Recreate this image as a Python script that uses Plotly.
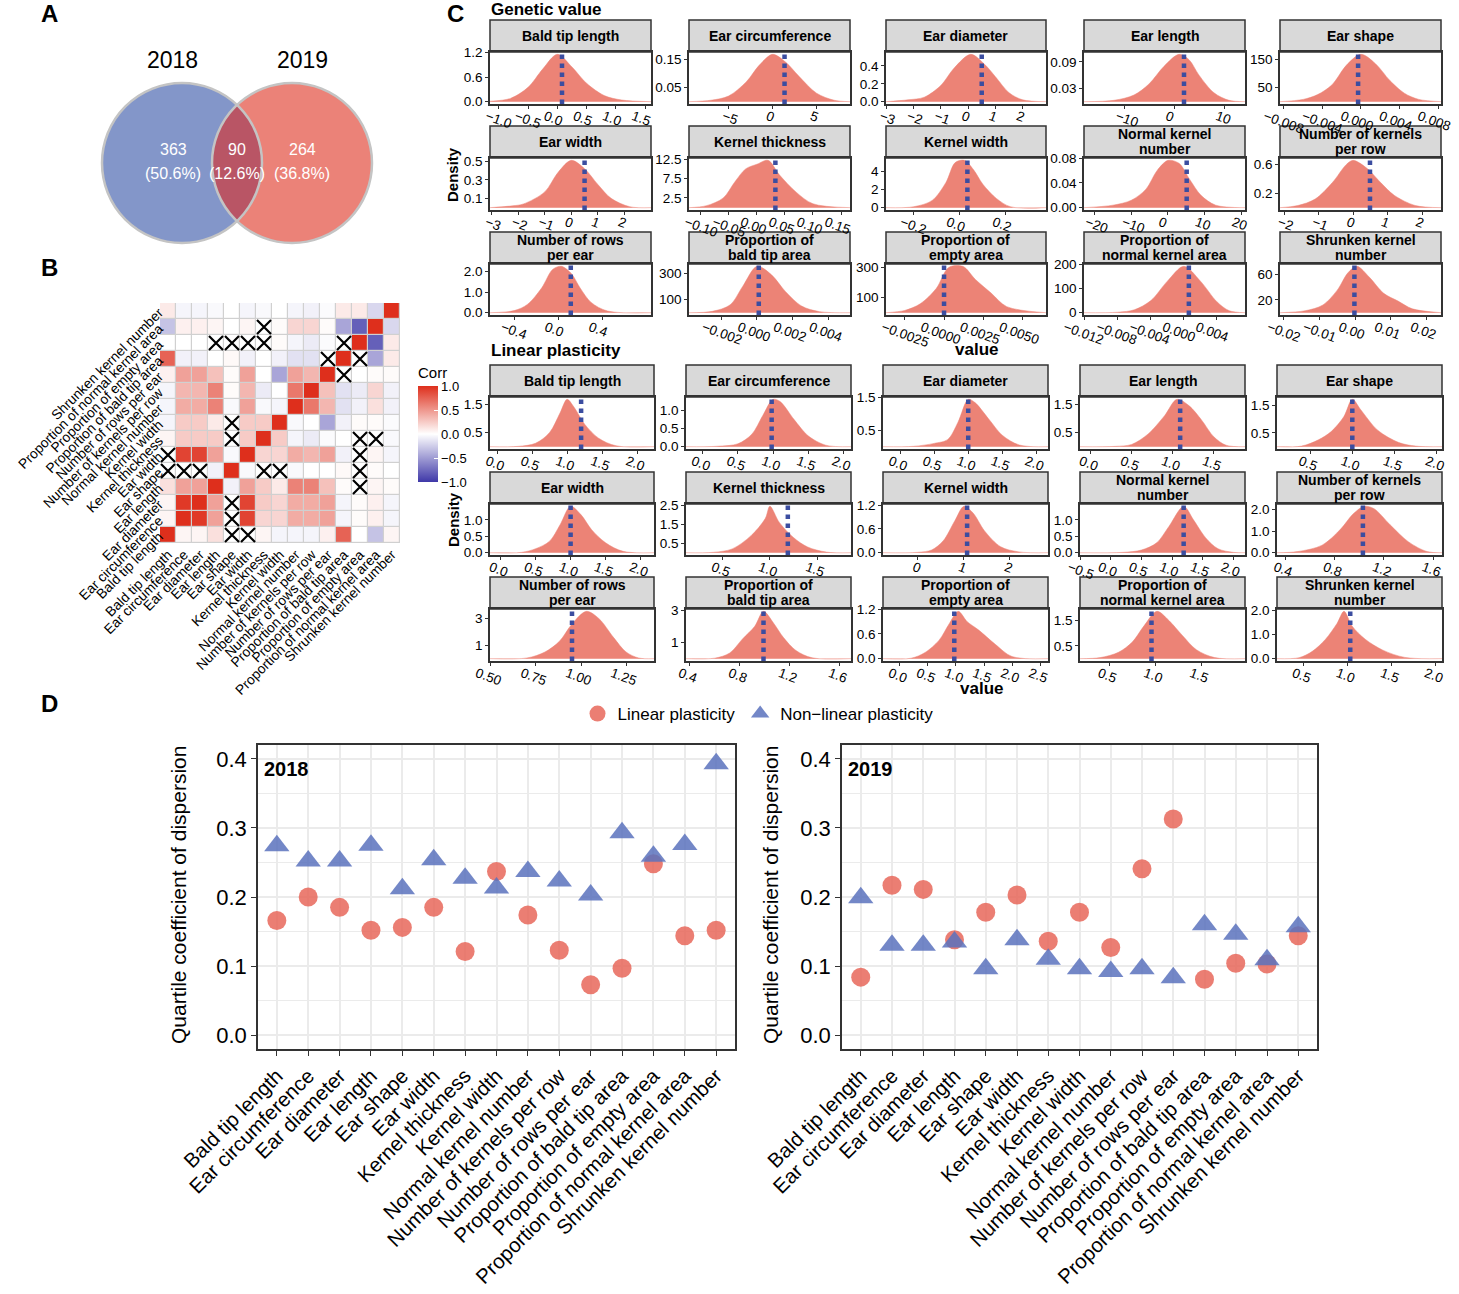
import numpy as np
import plotly.graph_objects as go

W, H = 1459, 1294
FONT = "Liberation Sans, Arial, Helvetica, sans-serif"

# ---------------- DATA ----------------
# A: Venn
venn_years = ["2018", "2019"]
venn_counts = [363, 90, 264]
venn_percent = ["50.6%", "12.6%", "36.8%"]

# B: correlation heatmap (row i / column j follow `traits`)
traits = ["Bald tip length", "Ear circumference", "Ear diameter", "Ear length", "Ear shape",
          "Ear width", "Kernel thickness", "Kernel width", "Normal kernel number",
          "Number of kernels per row", "Number of rows per ear", "Proportion of bald tip area",
          "Proportion of empty area", "Proportion of normal kernel area", "Shrunken kernel number"]
corr = [
    [1.00, 0.05, 0.05, 0.15, 0.00, 0.00, 0.05, -0.05, -0.05, -0.05, 0.07, 0.75, 0.00, -0.30, 0.05],
    [0.05, 1.00, 0.95, 0.45, 0.00, 0.90, 0.20, 0.20, 0.40, 0.40, 0.45, -0.05, 0.02, 0.07, -0.05],
    [0.05, 0.95, 1.00, 0.45, 0.00, 0.90, 0.25, 0.20, 0.40, 0.40, 0.45, -0.05, 0.02, 0.07, -0.05],
    [0.15, 0.45, 0.45, 1.00, -0.07, 0.45, 0.25, 0.10, 0.60, 0.60, 0.30, 0.02, 0.00, 0.05, 0.02],
    [0.00, 0.00, 0.00, -0.07, 1.00, -0.03, 0.00, 0.00, -0.03, 0.00, 0.00, 0.03, 0.00, 0.02, 0.00],
    [0.00, 0.90, 0.90, 0.45, -0.03, 1.00, 0.20, 0.20, 0.40, 0.35, 0.45, -0.07, 0.00, 0.05, -0.05],
    [0.05, 0.25, 0.25, 0.25, 0.00, 0.25, 1.00, 0.25, -0.05, -0.10, -0.02, 0.00, 0.00, 0.00, -0.03],
    [-0.05, 0.25, 0.25, 0.10, 0.00, 0.25, 0.25, 1.00, -0.03, 0.00, -0.45, -0.07, 0.02, 0.02, -0.02],
    [-0.05, 0.40, 0.40, 0.60, -0.03, 0.45, -0.03, -0.05, 1.00, 0.65, 0.35, -0.15, -0.07, 0.15, -0.07],
    [-0.05, 0.35, 0.35, 0.60, 0.02, 0.35, -0.10, 0.00, 0.65, 1.00, 0.30, -0.15, -0.10, 0.20, -0.07],
    [0.07, 0.45, 0.45, 0.30, 0.02, 0.45, 0.00, -0.45, 0.45, 0.35, 1.00, 0.00, 0.00, 0.02, 0.02],
    [0.75, -0.07, -0.07, 0.00, 0.03, -0.07, 0.00, -0.07, -0.15, -0.15, 0.00, 1.00, 0.00, -0.45, 0.10],
    [0.00, 0.00, 0.00, 0.00, 0.00, 0.00, 0.00, 0.02, -0.05, -0.10, -0.02, 0.00, 1.00, -0.80, 0.10],
    [-0.30, 0.07, 0.07, 0.05, 0.00, 0.05, 0.00, 0.02, 0.20, 0.20, 0.02, -0.45, -0.80, 1.00, -0.20],
    [0.10, -0.05, -0.05, -0.03, 0.00, -0.05, -0.03, 0.00, -0.05, -0.07, -0.02, 0.10, 0.10, -0.20, 1.00],
]
nonsig = [[0, 4], [0, 5], [1, 4], [2, 4], [3, 12], [4, 0], [4, 1], [4, 2], [4, 6], [4, 7], [4, 12],
          [5, 0], [5, 12], [6, 4], [6, 12], [6, 13], [7, 4], [10, 11], [11, 10], [11, 12],
          [12, 3], [12, 4], [12, 5], [12, 6], [12, 11], [13, 6]]

# C: density facets
facet_titles = ["Bald tip length", "Ear circumference", "Ear diameter", "Ear length", "Ear shape",
                "Ear width", "Kernel thickness", "Kernel width", "Normal kernel<br>number",
                "Number of kernels<br>per row", "Number of rows<br>per ear", "Proportion of<br>bald tip area",
                "Proportion of<br>empty area", "Proportion of<br>normal kernel area", "Shrunken kernel<br>number"]

gen_xrange = [[-1.15, 1.6], [-9.5, 8.8], [-3.0, 2.85], [-18, 14.2], [-0.0084, 0.0083],
              [-3.06, 3.0], [-0.121, 0.166], [-0.32, 0.374], [-22.9, 21], [-2.12, 2.55],
              [-0.62, 0.845], [-0.0038, 0.0052], [-0.0037, 0.0065], [-0.0121, 0.0074], [-0.021, 0.024]]
gen_x = [
    [-1.15, -0.8, -0.5, -0.25, 0.0, 0.25, 0.5, 0.8, 1.1, 1.6],
    [-9.5, -7, -5, -3, -1.5, 0, 1.5, 3, 5, 7, 8.8],
    [-3.0, -2.2, -1.6, -1.0, -0.5, 0.1, 0.6, 1.0, 1.5, 2.0, 2.85],
    [-18, -12, -8, -5, -2, 1, 3, 5, 8, 11, 14.2],
    [-0.0084, -0.006, -0.0045, -0.003, -0.0015, 0.0, 0.0015, 0.003, 0.0045, 0.006, 0.0083],
    [-3.06, -2.2, -1.8, -1.0, -0.5, 0, 0.5, 1.0, 1.5, 2.2, 3.0],
    [-0.121, -0.09, -0.06, -0.04, -0.02, 0.0, 0.02, 0.04, 0.07, 0.1, 0.166],
    [-0.32, -0.2, -0.12, -0.06, -0.02, 0.02, 0.06, 0.1, 0.16, 0.22, 0.374],
    [-22.9, -15, -10, -6, -3, 0, 3, 6, 9, 13, 21],
    [-2.12, -1.6, -1.1, -0.6, -0.2, 0.0, 0.4, 0.8, 1.2, 1.8, 2.55],
    [-0.62, -0.4, -0.28, -0.15, -0.05, 0.03, 0.12, 0.2, 0.3, 0.45, 0.845],
    [-0.0038, -0.0025, -0.0015, -0.0008, 0.0, 0.0008, 0.0016, 0.0025, 0.0035, 0.0052],
    [-0.0037, -0.0025, -0.0015, -0.0005, 0.0003, 0.0012, 0.002, 0.003, 0.004, 0.0065],
    [-0.0121, -0.008, -0.006, -0.004, -0.002, 0.0, 0.002, 0.004, 0.0055, 0.0074],
    [-0.021, -0.014, -0.009, -0.005, -0.002, 0.0005, 0.004, 0.008, 0.012, 0.016, 0.024],
]
gen_y = [
    [0.01, 0.08, 0.35, 0.8, 1.16, 0.85, 0.45, 0.15, 0.04, 0.0],
    [0, 0.005, 0.02, 0.07, 0.13, 0.168, 0.14, 0.09, 0.03, 0.005, 0],
    [0, 0.02, 0.05, 0.18, 0.38, 0.53, 0.42, 0.28, 0.1, 0.02, 0],
    [0, 0.003, 0.015, 0.04, 0.08, 0.107, 0.095, 0.06, 0.02, 0.003, 0],
    [0, 8, 25, 60, 130, 168, 135, 75, 30, 8, 0],
    [0, 0.02, 0.04, 0.17, 0.38, 0.51, 0.42, 0.25, 0.1, 0.01, 0],
    [0, 0.5, 2.5, 6.5, 10.0, 11.2, 12.2, 8.5, 4, 1, 0],
    [0, 0.1, 0.8, 2.8, 5.0, 5.25, 4.2, 2.6, 1.0, 0.1, 0],
    [0, 0.004, 0.012, 0.03, 0.06, 0.0767, 0.072, 0.045, 0.02, 0.004, 0],
    [0, 0.03, 0.12, 0.35, 0.6, 0.66, 0.55, 0.35, 0.17, 0.03, 0],
    [0, 0.1, 0.4, 1.2, 2.1, 2.25, 1.9, 1.2, 0.5, 0.08, 0],
    [0, 10, 60, 200, 353, 290, 160, 50, 8, 0],
    [0, 15, 60, 160, 300, 307, 220, 130, 40, 0],
    [0, 2, 12, 50, 130, 191, 130, 45, 8, 0],
    [0, 3, 12, 35, 62, 72, 55, 30, 18, 6, 0],
]
gen_vline = [0.08, 1.36, 0.5, 2.0, -0.0003, 0.5, 0.033, 0.033, 5.1, 0.49, 0.115, 0.0001, 0.0, 0.0006, -0.0002]
gen_xticks = [["-1.0", "-0.5", "0.0", "0.5", "1.0", "1.5"], ["-5", "0", "5"], ["-3", "-2", "-1", "0", "1", "2"],
              ["-10", "0", "10"], ["-0.008", "-0.004", "0.000", "0.004", "0.008"],
              ["-3", "-2", "-1", "0", "1", "2"], ["-0.10", "-0.05", "0.00", "0.05", "0.10", "0.15"],
              ["-0.2", "0.0", "0.2"], ["-20", "-10", "0", "10", "20"], ["-2", "-1", "0", "1", "2"],
              ["-0.4", "0.0", "0.4"], ["-0.002", "0.000", "0.002", "0.004"],
              ["-0.0025", "0.0000", "0.0025", "0.0050"], ["-0.012", "-0.008", "-0.004", "0.000", "0.004"],
              ["-0.02", "-0.01", "0.00", "0.01", "0.02"]]
gen_yticks = [["0.0", "0.6", "1.2"], ["0.05", "0.15"], ["0.0", "0.2", "0.4"], ["0.03", "0.09"], ["50", "150"],
              ["0.1", "0.3", "0.5"], ["2.5", "7.5", "12.5"], ["0", "2", "4"], ["0.00", "0.04", "0.08"],
              ["0.2", "0.6"], ["0.0", "1.0", "2.0"], ["100", "300"], ["100", "300"], ["0", "100", "200"],
              ["20", "60"]]

lin_xrange = [[-0.1, 2.24], [-0.24, 2.11], [-0.25, 2.17], [-0.13, 1.88], [0.11, 2.06],
              [-0.15, 2.19], [0.11, 1.86], [-0.76, 2.83], [-0.5, 2.19], [0.335, 1.67],
              [0.495, 1.405], [0.37, 1.69], [-0.3, 2.64], [0.18, 1.98], [0.2, 2.07]]
lin_x = [
    [-0.1, 0.3, 0.55, 0.75, 0.9, 1.0, 1.1, 1.25, 1.45, 1.7, 2.24],
    [-0.24, 0.2, 0.5, 0.7, 0.85, 1.0, 1.1, 1.3, 1.5, 1.75, 2.11],
    [-0.25, 0.2, 0.5, 0.7, 0.85, 1.0, 1.1, 1.3, 1.5, 1.75, 2.17],
    [-0.13, 0.3, 0.5, 0.7, 0.9, 1.05, 1.2, 1.35, 1.5, 1.65, 1.88],
    [0.11, 0.4, 0.6, 0.75, 0.9, 1.0, 1.1, 1.3, 1.55, 1.75, 2.06],
    [-0.15, 0.3, 0.5, 0.7, 0.85, 1.0, 1.15, 1.3, 1.5, 1.75, 2.19],
    [0.11, 0.4, 0.6, 0.8, 0.95, 1.0, 1.1, 1.25, 1.4, 1.6, 1.86],
    [-0.76, 0.0, 0.3, 0.55, 0.8, 1.0, 1.2, 1.45, 1.8, 2.2, 2.83],
    [-0.5, 0.2, 0.5, 0.75, 0.95, 1.19, 1.35, 1.55, 1.75, 2.0, 2.19],
    [0.335, 0.5, 0.7, 0.85, 0.95, 1.04, 1.12, 1.25, 1.4, 1.55, 1.67],
    [0.495, 0.7, 0.8, 0.88, 0.95, 1.03, 1.1, 1.18, 1.25, 1.32, 1.405],
    [0.37, 0.6, 0.72, 0.82, 0.92, 0.99, 1.07, 1.15, 1.25, 1.38, 1.69],
    [-0.3, 0.2, 0.45, 0.7, 0.88, 1.04, 1.2, 1.4, 1.7, 2.0, 2.64],
    [0.18, 0.4, 0.6, 0.75, 0.88, 1.02, 1.15, 1.3, 1.45, 1.65, 1.98],
    [0.2, 0.45, 0.6, 0.75, 0.88, 0.96, 1.05, 1.2, 1.4, 1.65, 2.07],
]
lin_y = [
    [0, 0.01, 0.12, 0.5, 1.2, 1.68, 1.4, 0.8, 0.3, 0.03, 0],
    [0, 0.01, 0.08, 0.35, 0.85, 1.31, 1.25, 0.75, 0.3, 0.04, 0],
    [0, 0.01, 0.1, 0.22, 0.75, 1.45, 1.35, 0.85, 0.35, 0.05, 0],
    [0, 0.01, 0.08, 0.45, 1.1, 1.68, 1.45, 0.95, 0.35, 0.05, 0],
    [0, 0.02, 0.25, 0.55, 1.1, 1.73, 1.35, 0.6, 0.15, 0.02, 0],
    [0, 0.01, 0.12, 0.35, 0.85, 1.41, 1.15, 0.7, 0.3, 0.04, 0],
    [0, 0.02, 0.2, 0.9, 1.8, 2.45, 1.6, 0.8, 0.3, 0.03, 0],
    [0, 0.01, 0.07, 0.3, 0.8, 1.17, 1.0, 0.55, 0.15, 0.02, 0],
    [0, 0.01, 0.08, 0.3, 0.8, 1.41, 1.0, 0.45, 0.12, 0.01, 0],
    [0, 0.05, 0.35, 1.1, 1.8, 2.16, 2.05, 1.3, 0.5, 0.05, 0],
    [0, 0.05, 0.5, 1.3, 2.6, 3.55, 3.0, 1.6, 0.5, 0.05, 0],
    [0, 0.03, 0.35, 1.2, 2.0, 2.92, 2.2, 1.3, 0.5, 0.05, 0],
    [0, 0.01, 0.15, 0.45, 0.85, 1.15, 0.9, 0.7, 0.35, 0.05, 0],
    [0, 0.04, 0.25, 0.65, 1.3, 1.86, 1.5, 0.9, 0.35, 0.04, 0],
    [0, 0.04, 0.3, 0.8, 1.45, 1.95, 1.35, 0.8, 0.35, 0.05, 0],
]
lin_vline = [1.2, 0.98, 1.0, 1.09, 1.0, 1.0, 1.19, 1.07, 1.19, 1.03, 0.95, 0.99, 0.97, 0.96, 1.03]
lin_xticks = [["0.0", "0.5", "1.0", "1.5", "2.0"], ["0.0", "0.5", "1.0", "1.5", "2.0"],
              ["0.0", "0.5", "1.0", "1.5", "2.0"], ["0.0", "0.5", "1.0", "1.5"], ["0.5", "1.0", "1.5", "2.0"],
              ["0.0", "0.5", "1.0", "1.5", "2.0"], ["0.5", "1.0", "1.5"], ["0", "1", "2"],
              ["-0.5", "0.0", "0.5", "1.0", "1.5", "2.0"], ["0.4", "0.8", "1.2", "1.6"],
              ["0.50", "0.75", "1.00", "1.25"], ["0.4", "0.8", "1.2", "1.6"],
              ["0.0", "0.5", "1.0", "1.5", "2.0", "2.5"], ["0.5", "1.0", "1.5"], ["0.5", "1.0", "1.5", "2.0"]]
lin_yticks = [["0.5", "1.5"], ["0.0", "0.5", "1.0"], ["0.5", "1.5"], ["0.5", "1.5"], ["0.5", "1.5"],
              ["0.0", "0.5", "1.0"], ["0.5", "1.5", "2.5"], ["0.0", "0.6", "1.2"], ["0.0", "0.5", "1.0"],
              ["0.0", "1.0", "2.0"], ["1", "3"], ["1", "3"], ["0.0", "0.6", "1.2"], ["0.5", "1.5"],
              ["0.0", "1.0", "2.0"]]

# D: quartile coefficient of dispersion
qcd_2018_linear = [0.166, 0.200, 0.185, 0.152, 0.156, 0.185, 0.121, 0.237, 0.174, 0.123, 0.073, 0.097, 0.248, 0.144, 0.152]
qcd_2018_nonlinear = [0.274, 0.252, 0.252, 0.275, 0.212, 0.254, 0.227, 0.213, 0.237, 0.223, 0.203, 0.293, 0.259, 0.276, 0.393]
qcd_2019_linear = [0.084, 0.217, 0.211, 0.138, 0.178, 0.203, 0.136, 0.178, 0.127, 0.241, 0.313, 0.081, 0.104, 0.103, 0.144]
qcd_2019_nonlinear = [0.199, 0.130, 0.130, 0.135, 0.096, 0.138, 0.110, 0.096, 0.092, 0.096, 0.083, 0.160, 0.146, 0.109, 0.157]

# ---------------- FIGURE ----------------
fig = go.Figure()
fig.update_layout(template="none", width=W, height=H, autosize=False,
                  margin=dict(l=0, r=0, t=0, b=0, autoexpand=False),
                  paper_bgcolor="white", plot_bgcolor="white",
                  font=dict(family=FONT, color="black", size=13))
shapes, annots = [], []
axn = [0]


def add_axes(x0, x1, y0, y1, xa_kw, ya_kw):
    axn[0] += 1
    n = axn[0]
    s = "" if n == 1 else str(n)
    xa = dict(domain=[x0 / W, x1 / W], anchor="y" + s, automargin=False)
    xa.update(xa_kw)
    ya = dict(domain=[1 - y1 / H, 1 - y0 / H], anchor="x" + s, automargin=False)
    ya.update(ya_kw)
    fig.update_layout({"xaxis" + s: xa, "yaxis" + s: ya})
    return "x" + s, "y" + s


def paper_text(x, y, text, size, bold=False, xanchor="center", angle=0, color="black"):
    annots.append(dict(x=x / W, y=1 - y / H, xref="paper", yref="paper", showarrow=False,
                       text=("<b>%s</b>" % text) if bold else text, textangle=angle,
                       font=dict(size=size, color=color, family=FONT), xanchor=xanchor, yanchor="middle"))


# ----- A: Venn -----
vx, vy = add_axes(80, 400, 30, 260, dict(range=[80, 400], visible=False), dict(range=[260, 30], visible=False))
c1, c2, cy, r = (182, 163), (292, 163), 163, 80
shapes.append(dict(type="circle", xref=vx, yref=vy, x0=c1[0] - r, x1=c1[0] + r, y0=cy - r, y1=cy + r,
                   fillcolor="#8396C9", line=dict(width=0), layer="below"))
shapes.append(dict(type="circle", xref=vx, yref=vy, x0=c2[0] - r, x1=c2[0] + r, y0=cy - r, y1=cy + r,
                   fillcolor="#EB8278", line=dict(width=0), layer="below"))
alpha = np.arccos((c2[0] - c1[0]) / 2 / r)
t1 = np.linspace(-alpha, alpha, 60)
t2 = np.linspace(np.pi - alpha, np.pi + alpha, 60)
lx = np.concatenate([c1[0] + r * np.cos(t1), c2[0] + r * np.cos(t2)])
ly = np.concatenate([cy + r * np.sin(t1), cy + r * np.sin(t2)])
fig.add_trace(go.Scatter(x=lx, y=ly, fill="toself", fillcolor="#B95565", mode="lines", line=dict(width=0),
                         xaxis=vx, yaxis=vy, showlegend=False, hoverinfo="skip"))
for c in (c1, c2):
    shapes.append(dict(type="circle", xref=vx, yref=vy, x0=c[0] - r, x1=c[0] + r, y0=cy - r, y1=cy + r,
                       line=dict(color="#C4C4C4", width=2.5)))
for xx, yr in zip([172, 302], venn_years):
    annots.append(dict(x=xx, y=60, xref=vx, yref=vy, text=yr, showarrow=False, font=dict(size=23)))
for xx, cnt, pc in zip([173, 237, 302], venn_counts, venn_percent):
    annots.append(dict(x=xx, y=150, xref=vx, yref=vy, text=str(cnt), showarrow=False,
                       font=dict(size=16, color="white")))
    annots.append(dict(x=xx, y=174, xref=vx, yref=vy, text="(%s)" % pc, showarrow=False,
                       font=dict(size=16, color="white")))

# ----- B: heatmap -----
idx = list(range(len(traits)))
hx, hy = add_axes(160, 400, 303, 543,
                  dict(range=[-0.5, 14.5], tickvals=idx, ticktext=traits, tickangle=-45, showgrid=False,
                       zeroline=False, ticks="", tickfont=dict(size=13.8)),
                  dict(range=[-0.5, 14.5], tickvals=idx, ticktext=traits, tickangle=-45, showgrid=False,
                       zeroline=False, ticks="", tickfont=dict(size=13.8)))
shapes.append(dict(type="rect", xref=hx, yref=hy, x0=-0.5, x1=14.5, y0=-0.5, y1=14.5,
                   fillcolor="#D0D0D0", line=dict(color="#D0D0D0", width=1), layer="below"))
fig.add_trace(go.Heatmap(z=corr, x=idx, y=idx, zmin=-1, zmax=1, xgap=1.2, ygap=1.2,
                         colorscale=[[0, "#3F38A8"], [0.5, "#FFFFFF"], [1, "#DE2F1C"]],
                         xaxis=hx, yaxis=hy, hoverinfo="skip",
                         colorbar=dict(x=408 / W, xanchor="left", y=1 - 364 / H, yanchor="top",
                                       len=118, lenmode="pixels", thickness=20, outlinewidth=0, ypad=0,
                                       title=dict(text="Corr", side="top", font=dict(size=15)),
                                       tickvals=[-1, -0.5, 0, 0.5, 1],
                                       ticktext=["\u22121.0", "\u22120.5", "0.0", "0.5", "1.0"],
                                       ticks="inside", tickcolor="white", ticklen=4,
                                       tickfont=dict(size=13))))
fig.add_trace(go.Scatter(x=[p[1] for p in nonsig], y=[p[0] for p in nonsig], mode="markers",
                         marker=dict(symbol="x-thin", size=14, line=dict(width=2.2, color="black")),
                         xaxis=hx, yaxis=hy, showlegend=False, hoverinfo="skip"))

# ----- C: density facets -----
FILL = "#EC8376"
VLINE = "#3B4DA0"
TICKF = 13.5


def density_block(cols, rows, xr, xs, ys, vl, xt, yt):
    for k in range(15):
        rr, cc = divmod(k, 5)
        x0, x1 = cols[cc]
        y0, y1 = rows[rr]
        ymax = max(ys[k])
        common = dict(showline=True, mirror=True, linecolor="#333333", linewidth=1.5, showgrid=False,
                      zeroline=False, ticks="outside", ticklen=3, tickwidth=1, tickcolor="#333333",
                      tickfont=dict(size=TICKF, color="black"))
        labels = [s.replace("-", "\u2212") for s in xt[k]]
        mean_len = sum(len(s) for s in labels) / len(labels)
        xa = dict(range=xr[k], tickvals=[float(s) for s in xt[k]], ticktext=labels, tickangle=20,
                  ticklabelshift=-int(round(3.5 * mean_len)), ticklabelstandoff=-5, **common)
        ya = dict(range=[-0.05 * ymax, 1.05 * ymax], tickvals=[float(s) for s in yt[k]],
                  ticktext=yt[k], **common)
        xn, yn = add_axes(x0, x1, y0, y1, xa, ya)
        fig.add_trace(go.Scatter(x=xs[k], y=ys[k], mode="lines", fill="tozeroy", fillcolor=FILL,
                                 line=dict(color=FILL, width=0.5, shape="spline", smoothing=0.9),
                                 xaxis=xn, yaxis=yn, showlegend=False, hoverinfo="skip"))
        shapes.append(dict(type="line", xref=xn, yref=yn + " domain", x0=vl[k], x1=vl[k], y0=0, y1=1,
                           line=dict(color=VLINE, width=4.5, dash="dot")))
        shapes.append(dict(type="rect", xref="paper", yref="paper", x0=x0 / W, x1=x1 / W,
                           y0=1 - y0 / H, y1=1 - (y0 - 32) / H, fillcolor="#D9D9D9",
                           line=dict(color="#333333", width=1.5), layer="below"))
        parts = facet_titles[k].split("<br>")
        offs = [16] if len(parts) == 1 else [24, 9]
        for part, off in zip(parts, offs):
            annots.append(dict(x=(x0 + x1) / 2 / W, y=1 - (y0 - off) / H, xref="paper", yref="paper",
                               showarrow=False, text="<b>%s</b>" % part,
                               font=dict(size=14, color="black"), xanchor="center", yanchor="middle"))


gen_cols = [(490, 651), (689, 850), (886, 1046), (1084, 1245), (1280, 1441)]
gen_rows = [(52, 104), (158, 210), (264, 315)]
lin_cols = [(490, 654), (686, 851), (883, 1048), (1080, 1245), (1277, 1442)]
lin_rows = [(397, 449), (504, 555), (609, 661)]
density_block(gen_cols, gen_rows, gen_xrange, gen_x, gen_y, gen_vline, gen_xticks, gen_yticks)
density_block(lin_cols, lin_rows, lin_xrange, lin_x, lin_y, lin_vline, lin_xticks, lin_yticks)

paper_text(489, 9, "Genetic value", 17, bold=True, xanchor="left")
paper_text(489, 351, "Linear plasticity", 17, bold=True, xanchor="left")
paper_text(453, 175, "Density", 15, bold=True, angle=-90)
paper_text(453, 520, "Density", 15, bold=True, angle=-90)
paper_text(976, 349, "value", 17, bold=True)
paper_text(981, 688, "value", 17, bold=True)

# ----- D: scatter panels -----
RED = "#E8675A"
BLUE = "#5B72BD"


def d_panel(x0, x1, lin, non, label, show):
    xa = dict(range=[-0.6, 14.6], tickvals=idx, ticktext=traits, tickangle=-45, showgrid=True,
              gridcolor="#EBEBEB", gridwidth=1.5, showline=True, mirror=True, linecolor="#333333",
              linewidth=1.5, ticks="outside", ticklen=5, tickcolor="#333333", zeroline=False,
              tickfont=dict(size=20.5, color="black"))
    ya = dict(range=[-0.02, 0.42], tickvals=[0, 0.1, 0.2, 0.3, 0.4],
              ticktext=["0.0", "0.1", "0.2", "0.3", "0.4"], showgrid=True, gridcolor="#EBEBEB",
              gridwidth=1.5, showline=True, mirror=True, linecolor="#333333", linewidth=1.5,
              ticks="outside", ticklen=5, tickcolor="#333333", zeroline=False,
              tickfont=dict(size=22, color="black"),
              minor=dict(tickvals=[0.05, 0.15, 0.25, 0.35], showgrid=True, gridcolor="#EBEBEB",
                         gridwidth=0.8, ticks=""))
    xn, yn = add_axes(x0, x1, 745, 1049, xa, ya)
    fig.add_trace(go.Scatter(x=idx, y=lin, mode="markers", name="Linear plasticity", legendgroup="lin",
                             showlegend=show, marker=dict(symbol="circle", size=19, color=RED, opacity=0.85),
                             xaxis=xn, yaxis=yn))
    fig.add_trace(go.Scatter(x=idx, y=non, mode="markers", name="Non\u2212linear plasticity",
                             legendgroup="non", showlegend=show,
                             marker=dict(symbol="triangle-up", size=22, color=BLUE, opacity=0.85),
                             xaxis=xn, yaxis=yn))
    paper_text(x0 + 4, 769, label, 20, bold=True, xanchor="left")


d_panel(258, 735, qcd_2018_linear, qcd_2018_nonlinear, "2018", True)
d_panel(842, 1317, qcd_2019_linear, qcd_2019_nonlinear, "2019", False)
paper_text(178, 895, "Quartile coefficient of dispersion", 21, angle=-90)
paper_text(770, 895, "Quartile coefficient of dispersion", 21, angle=-90)

# panel letters
for lt, (xx, yy) in zip("ABCD", [(50, 14), (50, 267), (455, 14), (50, 703)]):
    paper_text(xx, yy, lt, 24, bold=True)

fig.update_layout(shapes=shapes, annotations=annots, showlegend=True,
                  legend=dict(orientation="h", x=758 / W, xanchor="center", y=1 - 714 / H, yanchor="middle",
                              font=dict(size=17), bgcolor="rgba(0,0,0,0)"))

fig.write_html("out.html", config={"displayModeBar": False},
               post_script="document.body.style.margin='0';")
